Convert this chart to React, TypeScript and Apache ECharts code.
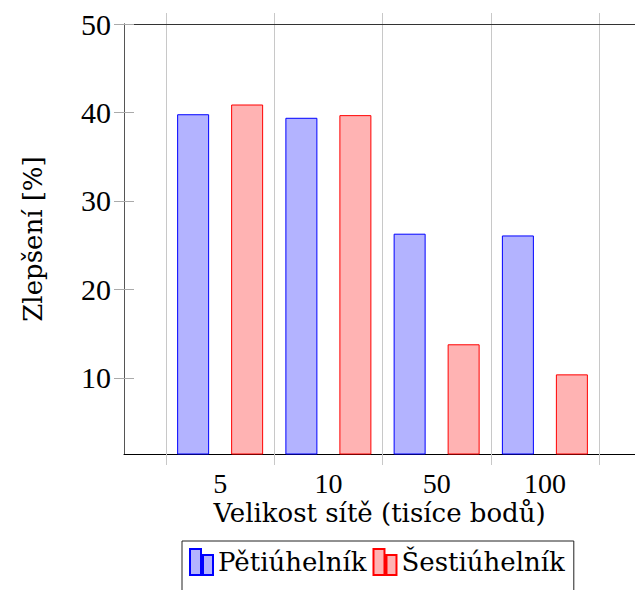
import React, { useEffect, useRef } from "react";
import * as echarts from "echarts";

const categories = ["5", "10", "50", "100"];
const petiuhelnik = [39.8, 39.4, 26.3, 26.1];
const sestiuhelnik = [40.9, 39.7, 13.8, 10.4];
const yTicks = [10, 20, 30, 40, 50];
const yMin = 1.4;
const yMax = 50;

const FONT_TEXT = "DejaVu Serif";
const FONT_NUM = "Liberation Serif";

export default function App() {
  const ref = useRef<HTMLDivElement>(null);
  useEffect(() => {
    if (!ref.current) return;
    const chart = echarts.init(ref.current, undefined, { renderer: "svg" });
    const iconPath = "path://M0,0H11V26H0Z M13,6H23V26H13Z";
    chart.setOption({
      animation: false,
      backgroundColor: "#ffffff",
      grid: [
        { left: 124, top: 24, width: 512, height: 430 },
        { left: 166, top: 24, width: 433, height: 430 },
      ],
      legend: {
        left: 182,
        top: 541,
        orient: "horizontal",
        borderColor: "#222",
        borderWidth: 1,
        borderRadius: 0,
        padding: [7, 9, 20, 7],
        itemGap: 6,
        itemWidth: 23,
        itemHeight: 26,
        textStyle: { fontFamily: FONT_TEXT, fontSize: 26, color: "#000" },
        data: [
          { name: "Pětiúhelník", icon: iconPath },
          { name: "Šestiúhelník", icon: iconPath },
        ],
      },
      xAxis: [
        {
          gridIndex: 0,
          type: "value",
          min: 0,
          max: 1,
          position: "bottom",
          axisLine: { show: true, lineStyle: { color: "#000", width: 1 } },
          axisTick: { show: false },
          axisLabel: { show: false },
          splitLine: { show: false },
          name: "Velikost sítě (tisíce bodů)",
          nameLocation: "middle",
          nameGap: 46,
          nameTextStyle: { fontFamily: FONT_TEXT, fontSize: 26, color: "#000" },
        },
        {
          gridIndex: 0,
          type: "value",
          min: 0,
          max: 1,
          position: "top",
          axisLine: { show: true, lineStyle: { color: "#333", width: 1 } },
          axisTick: { show: false },
          axisLabel: { show: false },
          splitLine: { show: false },
        },
        {
          gridIndex: 1,
          type: "category",
          data: categories,
          boundaryGap: true,
          position: "bottom",
          axisLine: { show: false },
          axisTick: { show: true, length: 11, interval: 0, lineStyle: { color: "#c8c8c8" } },
          axisLabel: { fontFamily: FONT_NUM, fontSize: 28, color: "#000", margin: 15, interval: 0 },
          splitLine: { show: true, interval: 0, lineStyle: { color: "#c8c8c8", width: 1 } },
        },
        {
          gridIndex: 1,
          type: "category",
          data: categories,
          boundaryGap: true,
          position: "top",
          axisLine: { show: false },
          axisTick: { show: true, length: 11, interval: 0, lineStyle: { color: "#c8c8c8" } },
          axisLabel: { show: false },
          splitLine: { show: false },
        },
      ],
      yAxis: [
        {
          gridIndex: 0,
          type: "value",
          min: yMin,
          max: yMax,
          position: "left",
          axisLine: { show: true, lineStyle: { color: "#555", width: 1 } },
          axisTick: { show: true, inside: true, length: 10, customValues: yTicks, lineStyle: { color: "#aaa" } },
          axisLabel: { fontFamily: FONT_NUM, fontSize: 30, color: "#000", margin: 13, customValues: yTicks },
          splitLine: { show: false },
          name: "Zlepšení [%]",
          nameLocation: "middle",
          nameGap: 78,
          nameTextStyle: { fontFamily: FONT_TEXT, fontSize: 26, color: "#000" },
        },
        {
          gridIndex: 0,
          type: "value",
          min: yMin,
          max: yMax,
          position: "right",
          axisLine: { show: true, lineStyle: { color: "#555", width: 1 } },
          axisTick: { show: true, inside: true, length: 10, customValues: yTicks, lineStyle: { color: "#aaa" } },
          axisLabel: { show: false },
          splitLine: { show: false },
        },
        {
          gridIndex: 1,
          type: "value",
          min: yMin,
          max: yMax,
          show: false,
          splitLine: { show: false },
        },
      ],
      series: [
        {
          name: "Pětiúhelník",
          type: "bar",
          xAxisIndex: 2,
          yAxisIndex: 2,
          data: petiuhelnik,
          barWidth: 32,
          barGap: "68.75%",
          itemStyle: { color: "#b3b3ff", borderColor: "#0000ff", borderWidth: 1 },
        },
        {
          name: "Šestiúhelník",
          type: "bar",
          xAxisIndex: 2,
          yAxisIndex: 2,
          data: sestiuhelnik,
          barWidth: 32,
          barGap: "68.75%",
          itemStyle: { color: "#ffb3b3", borderColor: "#ff0000", borderWidth: 1 },
        },
      ],
    });
    return () => chart.dispose();
  }, []);
  return (
    <div
      ref={ref}
      style={{ position: "fixed", left: 0, top: 0, width: 635, height: 590 }}
    />
  );
}
